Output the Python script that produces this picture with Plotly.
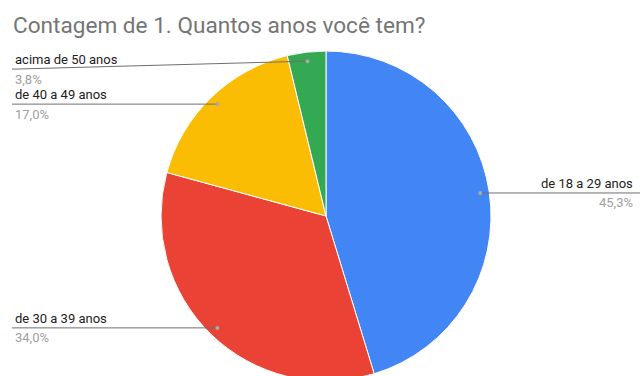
import math
import plotly.graph_objects as go

# Respostas: "1. Quantos anos você tem?"
categories = ["de 18 a 29 anos", "de 30 a 39 anos", "de 40 a 49 anos", "acima de 50 anos"]
counts = [24, 18, 9, 2]
colors = ["#4285F4", "#EA4335", "#FBBC04", "#34A853"]
label_side = ["right", "left", "left", "left"]

W, H = 640, 382
CX, CY, R = 326, 216, 165          # pie centre / radius (px)
DOT_FRAC = 0.945                   # leader dot distance from centre, relative to R

total = sum(counts)
shares = [c / total for c in counts]
pct_text = [f"{s * 100:.1f}".replace(".", ",") + "%" for s in shares]


def px(x):
    return x / W


def py(y):
    return 1 - y / H


fig = go.Figure(
    go.Pie(
        labels=categories,
        values=counts,
        sort=False,
        direction="clockwise",
        rotation=0,
        marker=dict(colors=colors, line=dict(color="white", width=1)),
        textinfo="none",
        hoverinfo="label+percent",
        showlegend=False,
        domain=dict(x=[px(CX - R), px(CX + R)], y=[py(CY + R), py(CY - R)]),
    )
)

shapes = []
annotations = []
cum = 0.0
for i, (name, s) in enumerate(zip(categories, shares)):
    mid = cum + s / 2
    cum += s
    theta = 2 * math.pi * mid
    dx = CX + DOT_FRAC * R * math.sin(theta)
    dy = CY - DOT_FRAC * R * math.cos(theta)

    # the smallest slice's label row is nudged down so it clears the title area
    row_y = dy + 8 if name == "acima de 50 anos" else dy

    if label_side[i] == "right":
        x_end, tx, anchor = W, W - 5, "right"
    else:
        x_end, tx, anchor = 12, 13, "left"

    shapes.append(dict(type="line", xref="paper", yref="paper",
                       x0=px(dx), y0=py(dy), x1=px(x_end), y1=py(row_y),
                       line=dict(color="#6f6f6f", width=1)))
    shapes.append(dict(type="circle", xref="paper", yref="paper",
                       x0=px(dx - 2), x1=px(dx + 2), y0=py(dy - 2), y1=py(dy + 2),
                       fillcolor="#a8a8a8", line=dict(width=0)))

    annotations.append(dict(xref="paper", yref="paper", x=px(tx), y=py(row_y - 9.5),
                            xanchor=anchor, yanchor="middle", showarrow=False,
                            text=name, font=dict(family="Roboto", size=13, color="#222222")))
    annotations.append(dict(xref="paper", yref="paper", x=px(tx), y=py(row_y + 10),
                            xanchor=anchor, yanchor="middle", showarrow=False,
                            text=pct_text[i], font=dict(family="Roboto", size=13, color="#a0a0a0")))

fig.update_layout(
    width=W,
    height=H,
    margin=dict(l=0, r=0, t=0, b=0),
    paper_bgcolor="white",
    plot_bgcolor="white",
    title=dict(text="Contagem de 1. Quantos anos você tem?",
               x=px(13), xanchor="left", xref="paper",
               y=py(25.5), yanchor="middle", yref="paper",
               font=dict(family="Roboto", size=22.6, color="#757575")),
    shapes=shapes,
    annotations=annotations,
)

fig.write_html(
    "out.html",
    post_script="document.body.style.overflow='hidden';document.documentElement.style.overflow='hidden';",
)
